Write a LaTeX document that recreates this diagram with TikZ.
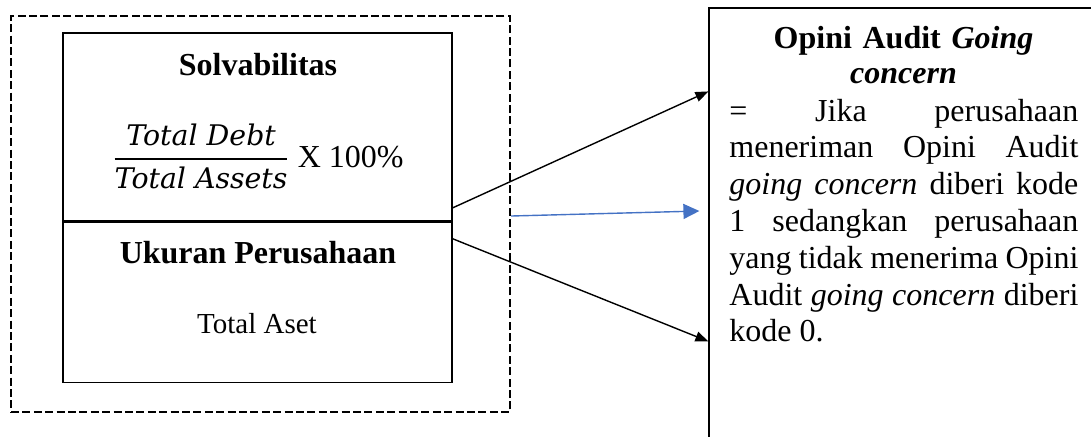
\RequirePackage{fix-cm}
\documentclass[tikz,border=0pt]{standalone}
\usepackage{fontspec}
\setmainfont{Liberation Serif}
\newfontfamily\mathtxt{DejaVu Serif}
\usetikzlibrary{positioning,arrows.meta,calc}
\definecolor{ArrowBlue}{RGB}{68,114,196}
\newcommand{\rasio}[2]{{\hbox{#1}\above 0.9pt\hbox{#2}}}
\tikzset{
  dashbox/.style={
    draw,
    line width=1.2pt,
    dash pattern=on 4pt off 1.7pt,
    minimum width=249.5pt,
    minimum height=198pt,
    inner sep=0pt
  },
  varbox/.style={
    draw,
    line width=0.8pt,
    minimum width=194.5pt,
    inner sep=0pt
  },
  opinibox/.style={
    draw,
    line width=0.6pt,
    minimum width=195.5pt,
    minimum height=221pt,
    inner sep=0pt
  },
  heading/.style={font=\fontsize{16}{17.5}\selectfont\bfseries,inner sep=0pt},
  plaintext/.style={font=\fontsize{14.5}{17}\selectfont,inner sep=0pt},
  arrow/.style={-{Triangle[length=6.5pt,width=5pt]},line width=0.7pt,draw=black},
  bluearrow/.style={-{Triangle[length=8pt,width=7.5pt]},line width=0.7pt,draw=ArrowBlue}
}

\begin{document}
\begin{tikzpicture}[x=0.5pt,y=-0.5pt]
    \useasboundingbox (0,0) rectangle (1091,436);
    % boxes
    \node[dashbox] (outer) at (260.5,214) {};
    \node[varbox,minimum height=94pt] (solv) at (257.5,127) {};
    \node[varbox,minimum height=80pt,below=0pt of solv] (ukuran) {};
    \node[opinibox] (opini) at (904.5,229) {};
    % texts
    \node[heading,anchor=base] (tsolv) at (258,75) {Solvabilitas};
    \node[anchor=base,inner sep=0pt,font=\fontsize{16}{19}\selectfont] (rumus) at (258,167)
      {$\displaystyle\rasio{\mathtxt\itshape\fontsize{14.2}{17}\selectfont Total Debt}
        {\mathtxt\itshape\fontsize{14.2}{17}\selectfont Total Assets}$\ X 100\%};
    \node[heading,anchor=base] (tukuran) at (258,263) {Ukuran Perusahaan};
    \node[plaintext,anchor=base] (taset) at (257,333) {Total Aset};
    \node[heading,anchor=base,text width=174.5pt,align=center] (topini) at (903.5,48)
      {Opini Audit \textit{Going}\\\textit{concern}};
    \node[anchor=base west,inner sep=0pt,text width=174.5pt,align=justify,
      font=\fontsize{16}{18.4}\selectfont] (isi) at (729,121)
      {= Jika perusahaan\linebreak
       meneriman Opini Audit\linebreak
       \textit{going concern} diberi kode\linebreak
       1 sedangkan perusahaan\linebreak
       yang tidak menerima Opini\linebreak
       Audit \textit{going concern} diberi\linebreak
       kode 0.};
    % arrows
    \draw[arrow] ($(solv.south east)+(0,-14)$) -- ($(opini.north west)+(0,84)$);
    \draw[bluearrow] ($(outer.east)+(0,2)$) -- ($(opini.west)+(-9,-18)$);
    \draw[arrow] ($(ukuran.north east)+(0,17)$) -- ($(opini.north west)+(0,334)$);
\end{tikzpicture}
\end{document}
